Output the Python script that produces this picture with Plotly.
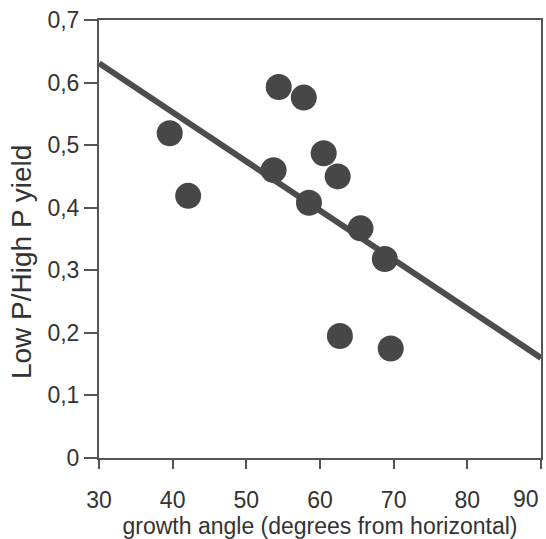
import plotly.graph_objects as go

# Data
angle = [39.6, 42.1, 54.4, 57.8, 53.7, 60.5, 62.4, 58.5, 65.5, 68.8, 62.7, 69.6]
yield_ratio = [0.519, 0.419, 0.593, 0.576, 0.460, 0.487, 0.450, 0.408, 0.367, 0.318, 0.195, 0.175]

fit_x = [30, 90]
fit_y = [0.631, 0.160]

x_tick_vals = [30, 40, 50, 60, 70, 80, 90]
x_tick_text = ["30", "40", "50", "60", "70", "80", "90"]
y_tick_vals = [0, 0.1, 0.2, 0.3, 0.4, 0.5, 0.6, 0.7]
y_tick_text = ["0", "0,1", "0,2", "0,3", "0,4", "0,5", "0,6", "0,7"]

x_title = "growth angle (degrees from horizontal)"
y_title = "Low P/High P yield"

AX = "#555555"
TXT = "#333333"
FONT = "Liberation Sans, Arial, sans-serif"

fig = go.Figure()
fig.add_trace(go.Scatter(x=fit_x, y=fit_y, mode="lines",
                         line=dict(color="#4d4d4d", width=6), hoverinfo="skip"))
fig.add_trace(go.Scatter(x=angle, y=yield_ratio, mode="markers",
                         marker=dict(size=26, color="#474747", line=dict(width=0))))

# last x label is right-aligned to its tick (as in the reference) so it stays inside
axis_labels = x_tick_text[:-1] + [""]
last_label = dict(text=x_tick_text[-1], x=x_tick_vals[-1], xref="x",
                  y=-0.0936, yref="paper", xanchor="right", yanchor="middle",
                  showarrow=False, font=dict(size=23, color=TXT))

fig.update_layout(
    width=546, height=539,
    margin=dict(l=99, r=5, t=20, b=81),
    paper_bgcolor="white", plot_bgcolor="white",
    showlegend=False,
    font=dict(family=FONT, color=TXT),
    xaxis=dict(range=[30, 90], tickvals=x_tick_vals, ticktext=axis_labels,
               showline=True, linecolor=AX, linewidth=2, mirror=True,
               ticks="outside", ticklen=9, tickwidth=2, tickcolor=AX,
               showgrid=False, zeroline=False,
               ticklabelstandoff=11,
               tickfont=dict(size=23, color=TXT),
               title=dict(text=x_title, font=dict(size=23, color=TXT), standoff=6),
               automargin=False),
    yaxis=dict(range=[0, 0.7], tickvals=y_tick_vals, ticktext=y_tick_text,
               showline=True, linecolor=AX, linewidth=2, mirror=True,
               ticks="outside", ticklen=13, tickwidth=2, tickcolor=AX,
               showgrid=False, zeroline=False, ticklabeloverflow="allow",
               tickfont=dict(size=23, color=TXT),
               automargin=False),
    annotations=[
        dict(text=y_title, xref="paper", yref="paper",
             x=-0.174, y=0.4475, xanchor="center", yanchor="middle",
             textangle=-90, showarrow=False,
             font=dict(size=28, color=TXT)),
        last_label,
    ],
)

# remove the browser's default 8px body margin so the figure fills the window
fig.write_html("out.html", config={"displayModeBar": False},
               post_script="document.body.style.margin='0';document.body.style.overflow='hidden';")
